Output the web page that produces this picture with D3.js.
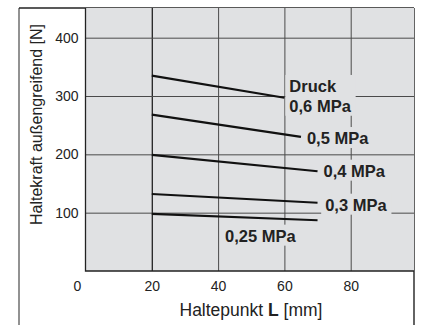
<!DOCTYPE html>
<html>
<head>
<meta charset="utf-8">
<script src="https://cdn.jsdelivr.net/npm/d3@7"></script>
<style>
  body { margin: 0; background: #fff; }
  svg { display: block; font-family: "Liberation Sans", Arial, Helvetica, sans-serif; }
</style>
</head>
<body>
<svg id="chart" width="421" height="325"></svg>
<script>
// Haltekraft je Druckstufe, jeweils Anfang/Ende der Kennlinie
var pressures = ["0,6 MPa", "0,5 MPa", "0,4 MPa", "0,3 MPa", "0,25 MPa"];
var startL = [20, 20, 20, 20, 20];
var endL = [60, 65, 70, 70, 70];
var startF = [335, 268, 199, 132, 98];
var endF = [297, 230, 171, 117, 87];

var xTicks = [0, 20, 40, 60, 80];
var yTicks = [100, 200, 300, 400];

// label anchors (in data units: L, F)
var labelL = [61.5, 66.8, 71.8, 72.3, 42.1];
var labelF = [273, 217.7, 161.7, 103.4, 50.3];

var svg = d3.select("#chart");
var frame = { left: 19, top: 8, right: 414 };
var plotBottom = 271;

var x = d3.scaleLinear().domain([0, 100]).range([85.5, 417]);
var y = d3.scaleLinear().domain([0, 450]).range([plotBottom, plotBottom - 450 * 0.5833]);

// outer frame
svg.append("line").attr("x1", frame.left).attr("x2", frame.left)
  .attr("y1", frame.top).attr("y2", 330)
  .attr("stroke", "#777").attr("stroke-width", 1.6);
svg.append("line").attr("x1", frame.left).attr("x2", frame.right)
  .attr("y1", frame.top).attr("y2", frame.top)
  .attr("stroke", "#222").attr("stroke-width", 1.4);
svg.append("line").attr("x1", frame.right).attr("x2", frame.right)
  .attr("y1", frame.top).attr("y2", 330)
  .attr("stroke", "#222").attr("stroke-width", 1.4);

// plot background
svg.append("rect")
  .attr("x", x(0)).attr("y", frame.top)
  .attr("width", frame.right - x(0)).attr("height", plotBottom - frame.top)
  .attr("fill", "#e0e1e3");

// grid
var plotW = frame.right - x(0);
var plotH = plotBottom - frame.top;

var xGrid = svg.append("g")
  .attr("transform", "translate(0," + plotBottom + ")")
  .call(d3.axisBottom(x).tickValues([20, 40, 60, 80]).tickSize(-plotH).tickFormat(""));
xGrid.select(".domain").remove();
xGrid.selectAll("line").attr("stroke", function(d) { return d === 20 ? "#222" : "#4a4a4a"; })
  .attr("stroke-width", function(d) { return d === 20 ? 1.3 : 1; });

var yGrid = svg.append("g")
  .attr("transform", "translate(" + x(0) + ",0)")
  .call(d3.axisLeft(y).tickValues(yTicks).tickSize(-plotW).tickFormat(""));
yGrid.select(".domain").remove();
yGrid.selectAll("line").attr("stroke", "#4a4a4a").attr("stroke-width", 1);

// plot left & bottom edges
svg.append("path")
  .attr("d", "M" + x(0) + "," + frame.top + "V" + plotBottom + "H" + frame.right)
  .attr("fill", "none").attr("stroke", "#222").attr("stroke-width", 1.3);

// curves
var line = d3.line().x(function(d) { return x(d[0]); }).y(function(d) { return y(d[1]); });
var series = pressures.map(function(p, i) {
  return [[startL[i], startF[i]], [endL[i], endF[i]]];
});
svg.append("g").selectAll("path").data(series).enter().append("path")
  .attr("d", line)
  .attr("fill", "none").attr("stroke", "#111").attr("stroke-width", 2.2);

// labels with background knocking out the grid
var labels = svg.append("g");
pressures.forEach(function(p, i) {
  var g = labels.append("g");
  var bg = g.append("rect").attr("fill", "#e0e1e3");
  var t = g.append("text")
    .attr("x", x(labelL[i])).attr("y", y(labelF[i]))
    .attr("font-size", 16.5).attr("font-weight", "bold").attr("fill", "#222");
  if (i === 0) {
    t.append("tspan").attr("x", x(labelL[i])).attr("dy", "-1.2em").text("Druck");
    t.append("tspan").attr("x", x(labelL[i])).attr("dy", "1.2em").text(p);
  } else {
    t.text(p);
  }
  var b = t.node().getBBox();
  bg.attr("x", b.x - 4).attr("y", b.y - 2)
    .attr("width", b.width + 8).attr("height", b.height + 3);
});

// tick labels
var xAxis = svg.append("g")
  .attr("transform", "translate(0," + plotBottom + ")")
  .call(d3.axisBottom(x).tickValues(xTicks).tickSize(0).tickPadding(10));
xAxis.select(".domain").remove();
xAxis.selectAll("text").attr("font-size", 14).attr("fill", "#222")
  .attr("font-family", null)
  .attr("dx", function(d) { return d === 0 ? -8.5 : 0; });

var yAxis = svg.append("g")
  .attr("transform", "translate(" + x(0) + ",0)")
  .call(d3.axisLeft(y).tickValues(yTicks).tickSize(0).tickPadding(7));
yAxis.select(".domain").remove();
yAxis.selectAll("text").attr("font-size", 14).attr("fill", "#222").attr("font-family", null);

// axis titles
var xt = svg.append("text")
  .attr("x", 251).attr("y", 316)
  .attr("text-anchor", "middle").attr("font-size", 17.5).attr("fill", "#222");
xt.append("tspan").text("Haltepunkt ");
xt.append("tspan").attr("font-weight", "bold").text("L");
xt.append("tspan").text(" [mm]");

svg.append("text")
  .attr("transform", "translate(41.5,124.5) rotate(-90)")
  .attr("text-anchor", "middle").attr("font-size", 16).attr("fill", "#222")
  .text("Haltekraft außengreifend [N]");
</script>
</body>
</html>
